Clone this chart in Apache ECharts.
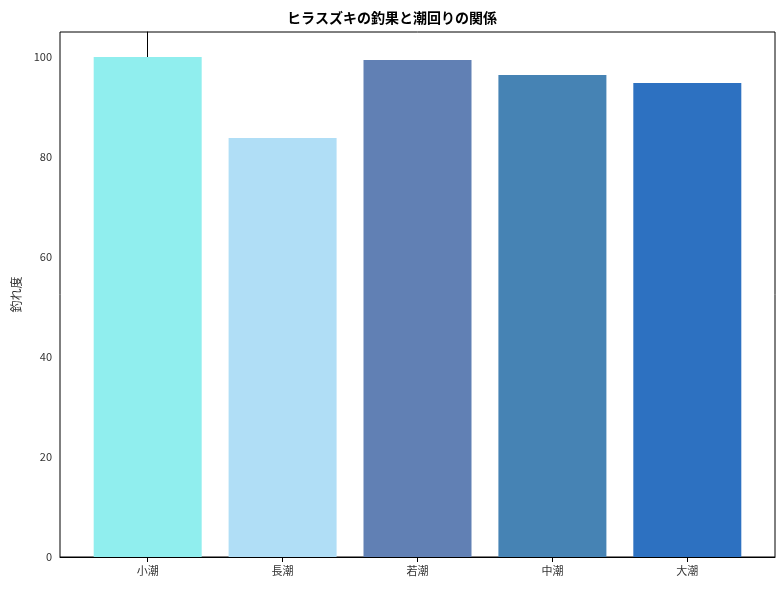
<!DOCTYPE html><html><head><meta charset="utf-8"><script src="https://cdn.jsdelivr.net/npm/echarts@6/dist/echarts.min.js"></script></head><body style="margin:0"><div id="c" style="width:784px;height:590px"></div><script>
const categories=['小潮','長潮','若潮','中潮','大潮'];
const values=[100,83.8,99.4,96.4,94.8];
const colors=['#90EEEE','#B0DEF6','#6180B4','#4683B4','#2D71C1'];
const yTicks=[0,20,40,60,80,100];
const f='"Noto Sans CJK JP"';
const ch=echarts.init(document.getElementById('c'));
ch.setOption({
 animation:false,
 title:{text:'ヒラスズキの釣果と潮回りの関係',left:'center',top:6,textStyle:{fontFamily:f,fontSize:14,fontWeight:'bold',color:'#000'}},
 grid:{left:60,right:9,top:32,bottom:33,show:true,borderColor:'#000',borderWidth:1},
 xAxis:{type:'value',min:-0.65,max:4.65,splitLine:{show:false},axisLine:{lineStyle:{color:'#000'}},
  axisTick:{show:true,customValues:[0,1,2,3,4],lineStyle:{color:'#000'}},
  axisLabel:{customValues:[0,1,2,3,4],formatter:v=>categories[Math.round(v)]||'',fontFamily:f,fontSize:11,color:'#333'}},
 yAxis:{type:'value',min:0,max:105,name:'釣れ度',nameLocation:'middle',nameGap:36,nameTextStyle:{fontFamily:f,fontSize:12,color:'#333'},
  splitLine:{show:false},axisLine:{show:true,lineStyle:{color:'#000'}},
  axisTick:{show:true,customValues:yTicks,lineStyle:{color:'#000'}},
  axisLabel:{customValues:yTicks,fontFamily:f,fontSize:11,color:'#333'}},
 series:[{type:'bar',barWidth:108,data:values.map((v,i)=>({value:[i,v],itemStyle:{color:colors[i]}}))}]
});
</script></body></html>
